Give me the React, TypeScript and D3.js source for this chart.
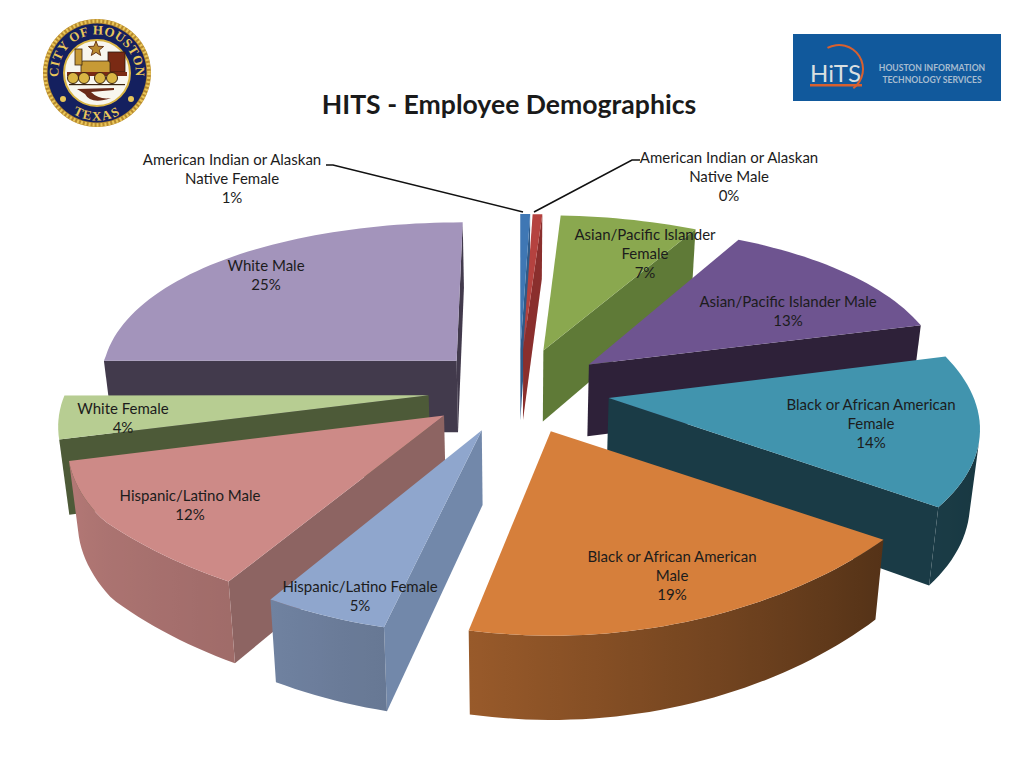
import React from "react";
import * as d3 from "d3";

// values (two first slices are both under 1%)
const categories = [
    "American Indian or Alaskan Native Female",
    "American Indian or Alaskan Native Male",
    "Asian/Pacific Islander Female",
    "Asian/Pacific Islander Male",
    "Black or African American Female",
    "Black or African American Male",
    "Hispanic/Latino Female",
    "Hispanic/Latino Male",
    "White Female",
    "White Male",
];
const shares = [0.5, 0.49, 7, 13, 14, 19, 5, 12, 4, 25];
const percentLabels = ["1%", "0%", "7%", "13%", "14%", "19%", "5%", "12%", "4%", "25%"];
const labelLines = [
    ["American Indian or Alaskan", "Native Female"],
    ["American Indian or Alaskan", "Native Male"],
    ["Asian/Pacific Islander", "Female"],
    ["Asian/Pacific Islander Male"],
    ["Black or African American", "Female"],
    ["Black or African American", "Male"],
    ["Hispanic/Latino Female"],
    ["Hispanic/Latino Male"],
    ["White Female"],
    ["White Male"],
];

// styling, one per slice
const topColors = ["#3f77b4", "#b5423f", "#8aa84f", "#6e5490", "#4194ae", "#d67f3b", "#8fa6cd", "#cd8a87", "#b7cd92", "#a394bb"];
const wallColors = ["#2f5a88", "#8a2f2d", "#5f7a37", "#2e2139", "#1a3b46", "#8a5222", "#7288aa", "#8d6462", "#4d5a38", "#423a4c"];
const labelX = [232, 729, 645, 788, 871, 672, 360, 190, 123, 266];
const labelY = [160, 158, 235, 302, 405, 557, 587, 496, 409, 266];
// the orange slice sits a little turned in the original
const spinDegrees = [0, 0, 0, 0, 0, -2, 0, 0, 0, 0];

const WIDTH = 1024;
const HEIGHT = 768;
const CX = 519;
const CY = 390;
const RADIUS = 355;
const EXPLODE = 0.25;

// hand fitted "camera": widens toward the viewer, y is squashed
const perspective = d3.scaleLinear().domain([-1.25, -0.2, 0.7, 1.25]).range([0.89, 0.99, 1.13, 1.09]);
const wallDepth = d3.scaleLinear().domain([350, 630]).range([71, 84]);
const rimShade = d3.scaleLinear().domain([90, 126, 194, 212, 255, 270]).range([0.35, 0.4, 0.72, 0.78, 0.88, 0.9]);

type Pt = [number, number];

const projectTop = (x: number, y: number): Pt => [
    CX + RADIUS * x * perspective(y),
    CY + 170 * y + 23.4 * y * y,
];
const dropToBottom = ([sx, sy]: Pt): Pt => [CX + (sx - CX) * 0.978, sy + wallDepth(sy)];

const area = (pts: Pt[]) => d3.polygonArea(pts);
const closed = d3.line<Pt>().curve(d3.curveLinearClosed);

const arcs = d3.pie<number>().sort(null).startAngle(0).endAngle(2 * Math.PI)(shares);

const slices = arcs
    .map((arc, i) => {
        const mid = (arc.startAngle + arc.endAngle) / 2;
        const spin = (spinDegrees[i] * Math.PI) / 180;
        const ox = EXPLODE * Math.sin(mid);
        const oy = -EXPLODE * Math.cos(mid);
        const steps = Math.max(2, Math.ceil((arc.endAngle - arc.startAngle) / 0.03));
        const angles = d3.range(steps + 1).map(k => arc.startAngle + spin + ((arc.endAngle - arc.startAngle) * k) / steps);
        const apex = projectTop(ox, oy);
        const rim = angles.map(a => projectTop(ox + Math.sin(a), oy - Math.cos(a)));
        return { i, mid, oy, apex, rim, angles };
    })
    .sort((a, b) => a.oy - b.oy);

const Seal: React.FC = () => {
    const cx = 97;
    const cy = 73;
    // text runs on arcs longer than a half circle so the words are not cut
    const topR = 38.5;
    const botR = 47.5;
    const dx = (r: number) => r * Math.cos(Math.PI / 6);
    const dy = (r: number) => r * Math.sin(Math.PI / 6);
    return (
        <g>
            <defs>
                <path id="sealTop" d={`M ${cx - dx(topR)} ${cy + dy(topR)} A ${topR} ${topR} 0 1 1 ${cx + dx(topR)} ${cy + dy(topR)}`} />
                <path id="sealBottom" d={`M ${cx - botR} ${cy} A ${botR} ${botR} 0 0 0 ${cx + botR} ${cy}`} />
            </defs>
            <circle cx={cx} cy={cy} r={54} fill="#b78a2e" />
            <circle cx={cx} cy={cy} r={52} fill="none" stroke="#e9c65a" strokeWidth={3.5} strokeDasharray="2 2" />
            <circle cx={cx} cy={cy} r={49.5} fill="#14205f" />
            <circle cx={cx} cy={cy} r={33} fill="#f8f6ee" stroke="#d9b544" strokeWidth={2} />
            <text fontFamily="Liberation Serif" fontWeight="bold" fontSize={13} fill="#e9c65a" letterSpacing={0.5}>
                <textPath href="#sealTop" startOffset="50%" textAnchor="middle">CITY OF HOUSTON</textPath>
            </text>
            <text fontFamily="Liberation Serif" fontWeight="bold" fontSize={13} fill="#e9c65a" letterSpacing={1.5}>
                <textPath href="#sealBottom" startOffset="50%" textAnchor="middle">TEXAS</textPath>
            </text>
            <circle cx={cx - 34} cy={cy + 26} r={3} fill="#e9c65a" />
            <circle cx={cx + 34} cy={cy + 26} r={3} fill="#e9c65a" />
            <path
                d={d3.lineRadial<number>().curve(d3.curveLinearClosed)
                    .angle((_, k) => (k * Math.PI) / 5)
                    .radius((_, k) => (k % 2 === 0 ? 8 : 3.4))(d3.range(10)) || ""}
                transform={`translate(${cx - 1},${cy - 24})`}
                fill="#b88a30"
                stroke="#6b3a1a"
                strokeWidth={1}
            />
            {/* locomotive */}
            <rect x={cx + 11} y={cy - 21} width={17} height={20} fill="#7a2a14" stroke="#2e1a10" strokeWidth={0.8} />
            <rect x={cx - 16} y={cy - 12} width={29} height={13} rx={2} fill="#c79a35" stroke="#3a2410" strokeWidth={0.8} />
            <rect x={cx - 22} y={cy - 24} width={7} height={16} fill="#c79a35" stroke="#3a2410" strokeWidth={0.8} />
            <rect x={cx - 30} y={cy - 1} width={60} height={4} fill="#7a2a14" />
            {[-24, -13, 3, 15].map(w => (
                <circle key={w} cx={cx + w} cy={cy + 5} r={5.5} fill="#d9b544" stroke="#3a2410" strokeWidth={1} />
            ))}
            <rect x={cx - 28} y={cy + 11} width={56} height={1.2} fill="#3a2410" />
            {/* plow */}
            <path
                d={`M ${cx - 20} ${cy + 16} L ${cx + 17} ${cy + 15} L ${cx + 17} ${cy + 17} L ${cx - 6} ${cy + 19} Q ${cx + 2} ${cy + 27} ${cx + 14} ${cy + 25} Q ${cx - 6} ${cy + 32} ${cx - 12} ${cy + 21} Z`}
                fill="#6b2a18"
            />
        </g>
    );
};

const HitsLogo: React.FC = () => (
    <g>
        <rect x={793} y={34} width={208} height={67} fill="#11599c" />
        <path
            d={d3.arc()({ innerRadius: 23, outerRadius: 25, startAngle: -0.5, endAngle: 2.5 }) || ""}
            transform="translate(839,69)"
            fill="#d8602f"
        />
        <rect x={810} y={84} width={52} height={2.5} fill="#d8602f" />
        <text x={810} y={82} fontFamily="Lato" fontSize={24} fill="#d9dfe0">HiTS</text>
        <g fontFamily="Lato" fontWeight="bold" fontSize={8.6} fill="#a8bdd0" textAnchor="middle">
            <text x={932} y={71}>HOUSTON INFORMATION</text>
            <text x={932} y={82.5}>TECHNOLOGY SERVICES</text>
        </g>
    </g>
);

const Slice: React.FC<{ s: (typeof slices)[number] }> = ({ s }) => {
    const top = topColors[s.i];
    const apexB = dropToBottom(s.apex);
    const bottomRim = s.rim.map(dropToBottom);
    const last = s.rim.length - 1;

    const startFace: Pt[] = [s.apex, s.rim[0], bottomRim[0], apexB];
    const endFace: Pt[] = [s.apex, s.rim[last], bottomRim[last], apexB];
    // cull the faces that look away from the viewer
    const faces = [
        area(startFace) > 0 ? startFace : null,
        area(endFace) < 0 ? endFace : null,
    ];

    // the part of the rim that faces us, one path with a horizontal gradient
    const shown = d3.range(last).filter(k =>
        area([s.rim[k], s.rim[k + 1], bottomRim[k + 1], bottomRim[k]]) > 0
    );
    const rimIdx = shown.length ? d3.range(shown[0], shown[shown.length - 1] + 2) : [];
    const rimPath: Pt[] = [...rimIdx.map(k => s.rim[k]), ...rimIdx.slice().reverse().map(k => bottomRim[k])];
    const xs = rimPath.map(p => p[0]);
    const [x0, x1] = d3.extent(xs) as [number, number];
    const stops = rimIdx
        .map(k => ({
            x: s.rim[k][0],
            color: d3.interpolateRgb("#000000", top)(rimShade((s.angles[k] * 180) / Math.PI)),
        }))
        .sort((a, b) => a.x - b.x);
    const gradId = `rim${s.i}`;

    return (
        <g>
            {faces.map((f, k) => f && <path key={k} d={closed(f) || ""} fill={wallColors[s.i]} />)}
            {rimIdx.length > 0 && (
                <>
                    <linearGradient id={gradId} gradientUnits="userSpaceOnUse" x1={x0} x2={x1} y1={0} y2={0}>
                        {stops.map((st, k) => (
                            <stop key={k} offset={x1 > x0 ? (st.x - x0) / (x1 - x0) : 0} stopColor={st.color} />
                        ))}
                    </linearGradient>
                    <path d={closed(rimPath) || ""} fill={`url(#${gradId})`} />
                </>
            )}
            <path d={closed([s.apex, ...s.rim]) || ""} fill={top} />
        </g>
    );
};

const App: React.FC = () => (
    <svg
        width={WIDTH}
        height={HEIGHT}
        style={{ position: "absolute", left: 0, top: 0, background: "#fff" }}
        role="img"
        aria-label="HITS - Employee Demographics"
    >
        <Seal />
        <HitsLogo />
        <text x={509} y={114} textAnchor="middle" fontFamily="Lato" fontWeight="bold" fontSize={26.6} fill="#1a1a1a">
            HITS - Employee Demographics
        </text>

        {slices.map(s => <Slice key={s.i} s={s} />)}

        {/* leader lines of the two tiny slices */}
        <path d="M 326 165 L 333 165 L 523 212" fill="none" stroke="#111" strokeWidth={1.6} />
        <path d="M 640 160 L 632 160 L 534 212" fill="none" stroke="#111" strokeWidth={1.6} />

        <g fontFamily="Lato" fontSize={15} fill="#1c1c1c" textAnchor="middle">
            {categories.map((name, i) => (
                <text key={name} x={labelX[i]} y={labelY[i] + 5}>
                    {[...labelLines[i], percentLabels[i]].map((line, k) => (
                        <tspan key={k} x={labelX[i]} dy={k === 0 ? 0 : 19}>{line}</tspan>
                    ))}
                </text>
            ))}
        </g>
    </svg>
);

export default App;
